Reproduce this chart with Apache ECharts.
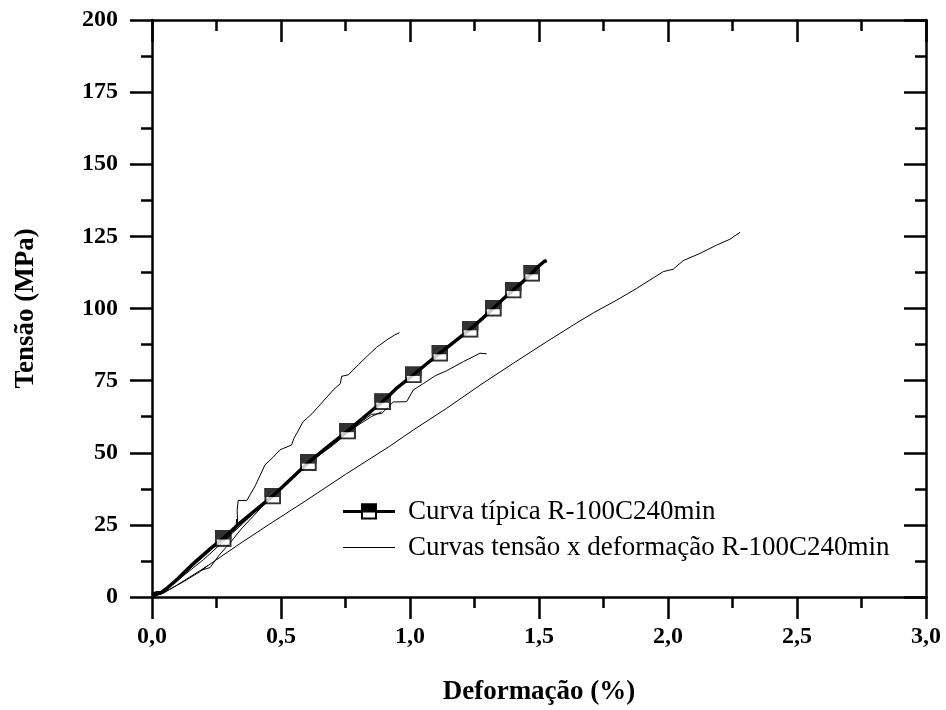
<!DOCTYPE html>
<html>
<head>
<meta charset="utf-8">
<script src="https://cdn.jsdelivr.net/npm/echarts@6/dist/echarts.min.js"></script>
<style>
  html, body { margin: 0; padding: 0; background: #fff; }
  #chart { width: 946px; height: 710px; }
</style>
</head>
<body>
<div id="chart"></div>
<script>
// Tensão x deformação, série R-100C240min
const xTicks = [0, 0.5, 1.0, 1.5, 2.0, 2.5, 3.0];
const yTicks = [0, 25, 50, 75, 100, 125, 150, 175, 200];

const typicalName = 'Curva típica R-100C240min';
const curvesName = 'Curvas tensão x deformação R-100C240min';

// Curva típica (traço grosso)
const typicalCurve = [
  [0, 0.8], [0.02, 1.5], [0.035, 1.5], [0.06, 3.2], [0.1, 6.3], [0.16, 11.6],
  [0.22, 16.3], [0.276, 20.3], [0.33, 24.8], [0.40, 30.0], [0.468, 35.0],
  [0.53, 40.2], [0.606, 46.6], [0.68, 52.0], [0.758, 57.5], [0.83, 63.0],
  [0.894, 67.7], [0.95, 72.5], [1.013, 77.0], [1.06, 80.5], [1.116, 84.5],
  [1.18, 89.0], [1.233, 92.8], [1.28, 96.5], [1.323, 100.1], [1.36, 103.2],
  [1.40, 106.4], [1.44, 109.5], [1.472, 112.2], [1.50, 114.8], [1.52, 116.3],
  [1.53, 116.6]
];

// Pontos marcados da curva típica
const typicalMarkers = [
  [0.276, 20.3], [0.468, 35.0], [0.606, 46.6], [0.758, 57.5], [0.894, 67.7],
  [1.013, 77.0], [1.116, 84.5], [1.233, 92.8], [1.323, 100.1], [1.40, 106.4],
  [1.472, 112.2]
];

// Corpos de prova individuais (traço fino)
const curveA = [
  [0, 0], [0.05, 2.5], [0.1, 6.0], [0.2, 14.0], [0.28, 20.5], [0.325, 23.5],
  [0.328, 27.0], [0.332, 25.5], [0.330, 30.0], [0.334, 33.5], [0.367, 33.4],
  [0.40, 38.5], [0.438, 45.8], [0.47, 48.5], [0.496, 51.0], [0.541, 52.7],
  [0.55, 55.0], [0.561, 56.7], [0.586, 60.8], [0.62, 63.5], [0.651, 66.6],
  [0.703, 71.8], [0.73, 74.0], [0.735, 76.5], [0.761, 77.0], [0.80, 80.5],
  [0.832, 83.3], [0.87, 86.5], [0.91, 89.1], [0.94, 90.8], [0.959, 91.6]
];

const curveB = [
  [0, 0], [0.05, 2.2], [0.1, 5.8], [0.2, 13.0], [0.28, 19.5], [0.4, 29.5],
  [0.5, 38.0], [0.6, 46.0], [0.7, 52.5], [0.76, 57.0], [0.8, 60.0],
  [0.85, 63.3], [0.89, 63.6], [0.935, 67.6], [0.987, 67.7], [1.013, 71.8],
  [1.052, 74.0], [1.1, 76.8], [1.142, 78.4], [1.207, 81.6], [1.25, 83.5],
  [1.271, 84.5], [1.297, 84.3]
];

const curveC = [
  [0, 0], [0.044, 1.3], [0.1, 4.3], [0.212, 10.6], [0.341, 18.5], [0.451, 25.0],
  [0.6, 33.6], [0.75, 42.5], [0.922, 52.3], [1.013, 57.9], [1.142, 65.4],
  [1.271, 73.4], [1.40, 81.0], [1.53, 88.5], [1.646, 95.0], [1.711, 98.5],
  [1.801, 102.9], [1.879, 107.0], [1.982, 112.8], [2.02, 113.6], [2.059, 116.6],
  [2.124, 119.1], [2.189, 122.0], [2.24, 124.0], [2.279, 126.4]
];

const curveD = [
  [0, 0], [0.043, 1.4], [0.12, 5.2], [0.186, 8.8], [0.215, 10.8], [0.192, 9.3],
  [0.225, 10.2], [0.26, 14.5], [0.302, 18.7], [0.35, 24.0], [0.45, 33.5],
  [0.55, 42.0], [0.62, 47.5], [0.7, 53.0], [0.78, 58.5], [0.85, 62.5],
  [0.89, 64.2]
];

const thinCurves = [curveA, curveB, curveC, curveD];

// Símbolos (SVG embutido): quadrado com metade superior preenchida
function svgUri(svg) {
  return 'image://data:image/svg+xml;charset=utf-8,' + encodeURIComponent(svg);
}
const markerSvg = svgUri(
  '<svg xmlns="http://www.w3.org/2000/svg" width="16" height="16" viewBox="0 0 16 16">' +
  '<rect x="1" y="1" width="14" height="14" fill="#fff" stroke="#000" stroke-width="2"/>' +
  '<rect x="0" y="0" width="16" height="9" fill="#000"/></svg>'
);
const legendTypicalIcon = svgUri(
  '<svg xmlns="http://www.w3.org/2000/svg" width="52" height="18" viewBox="0 0 52 18">' +
  '<line x1="0" y1="9" x2="52" y2="9" stroke="#000" stroke-width="3"/>' +
  '<rect x="19" y="2" width="14" height="14" fill="#fff" stroke="#000" stroke-width="2"/>' +
  '<rect x="18" y="1" width="16" height="9" fill="#000"/></svg>'
);
const legendThinIcon = svgUri(
  '<svg xmlns="http://www.w3.org/2000/svg" width="52" height="18" viewBox="0 0 52 18">' +
  '<line x1="0" y1="9" x2="52" y2="9" stroke="#000" stroke-width="1"/></svg>'
);

const serif = '"Liberation Serif", "Times New Roman", serif';
const axisLineStyle = { color: '#000', width: 2.5 };

const series = thinCurves.map(function (c) {
  return {
    name: curvesName, type: 'line', data: c, showSymbol: false, symbol: 'none',
    lineStyle: { color: '#000', width: 1 }, z: 2
  };
});
series.push({
  name: typicalName, type: 'line', data: typicalCurve, showSymbol: false, symbol: 'none',
  lineStyle: { color: '#000', width: 3.5 }, z: 3
});
series.push({
  name: typicalName, type: 'scatter', data: typicalMarkers,
  symbol: markerSvg, symbolSize: 17, z: 4
});

const chart = echarts.init(document.getElementById('chart'), null, { renderer: 'canvas' });
chart.setOption({
  animation: false,
  backgroundColor: '#fff',
  grid: { left: 152, right: 20, top: 20, bottom: 113, outerBoundsMode: 'none', containLabel: false },
  legend: {
    orient: 'vertical', left: 338, top: 493, itemWidth: 52, itemHeight: 18, itemGap: 9,
    selectedMode: false,
    textStyle: { fontFamily: serif, fontSize: 27, color: '#000', padding: [0, 0, 0, 8] },
    data: [
      { name: typicalName, icon: legendTypicalIcon },
      { name: curvesName, icon: legendThinIcon }
    ]
  },
  xAxis: [{
    type: 'value', position: 'bottom', min: xTicks[0], max: xTicks[xTicks.length - 1],
    interval: xTicks[1] - xTicks[0],
    name: 'Deformação (%)', nameLocation: 'middle', nameGap: 82,
    nameTextStyle: { fontFamily: serif, fontSize: 27, fontWeight: 'bold', color: '#000' },
    axisLine: { show: true, onZero: false, lineStyle: axisLineStyle },
    axisTick: { show: true, inside: false, length: 22, lineStyle: axisLineStyle },
    minorTick: { show: true, splitNumber: 2, length: 11, lineStyle: axisLineStyle },
    axisLabel: {
      margin: 28, fontFamily: serif, fontSize: 24, fontWeight: 'bold', color: '#000',
      formatter: function (v) { return v.toFixed(1).replace('.', ','); }
    },
    splitLine: { show: false }
  }, {
    type: 'value', position: 'top', min: xTicks[0], max: xTicks[xTicks.length - 1],
    interval: xTicks[1] - xTicks[0],
    axisLine: { show: true, onZero: false, lineStyle: axisLineStyle },
    axisTick: { show: true, inside: true, length: 22, lineStyle: axisLineStyle },
    minorTick: { show: true, splitNumber: 2, length: 11, lineStyle: axisLineStyle },
    axisLabel: { show: false },
    splitLine: { show: false }
  }],
  yAxis: [{
    type: 'value', position: 'left', min: yTicks[0], max: yTicks[yTicks.length - 1],
    interval: yTicks[1] - yTicks[0],
    name: 'Tensão (MPa)', nameLocation: 'middle', nameGap: 112,
    nameTextStyle: { fontFamily: serif, fontSize: 27, fontWeight: 'bold', color: '#000' },
    axisLine: { show: true, onZero: false, lineStyle: axisLineStyle },
    axisTick: { show: true, inside: false, length: 22, lineStyle: axisLineStyle },
    minorTick: { show: true, splitNumber: 2, length: 11, lineStyle: axisLineStyle },
    axisLabel: { margin: 34, fontFamily: serif, fontSize: 24, fontWeight: 'bold', color: '#000' },
    splitLine: { show: false }
  }, {
    type: 'value', position: 'right', min: yTicks[0], max: yTicks[yTicks.length - 1],
    interval: yTicks[1] - yTicks[0],
    axisLine: { show: true, onZero: false, lineStyle: axisLineStyle },
    axisTick: { show: true, inside: true, length: 22, lineStyle: axisLineStyle },
    minorTick: { show: true, splitNumber: 2, length: 11, lineStyle: axisLineStyle },
    axisLabel: { show: false },
    splitLine: { show: false }
  }],
  series: series
});
</script>
</body>
</html>
